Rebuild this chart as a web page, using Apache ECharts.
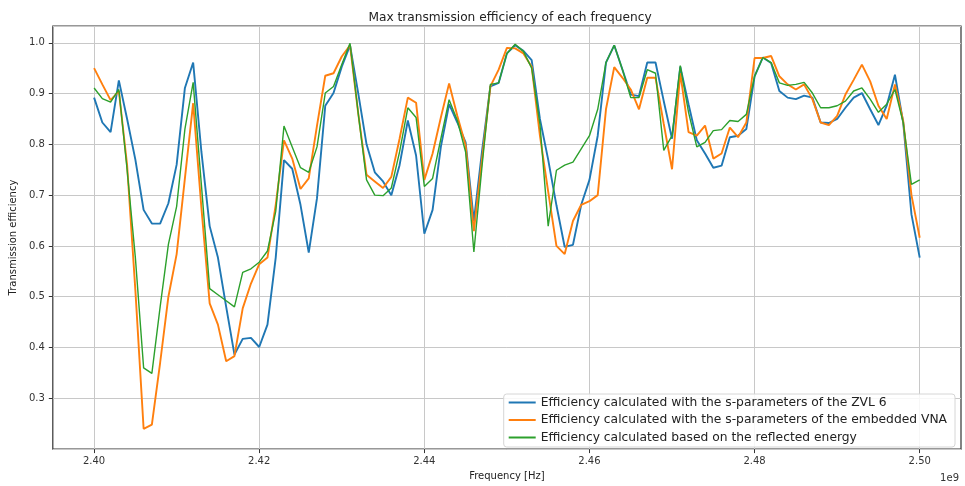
<!DOCTYPE html>
<html>
<head>
<meta charset="utf-8">
<script src="https://cdn.jsdelivr.net/npm/echarts@6/dist/echarts.min.js"></script>
<style>
  html, body { margin: 0; padding: 0; background: #fff; }
  #chart { width: 965px; height: 486px; }
</style>
</head>
<body>
<div id="chart"></div>
<script>
// frequency sweep in MHz (shown on the axis in units of 1e9 Hz)
const freqMHz = [
  2400, 2401, 2402, 2403, 2404, 2405, 2406, 2407, 2408, 2409,
  2410, 2411, 2412, 2413, 2414, 2415, 2416, 2417, 2418, 2419,
  2420, 2421, 2422, 2423, 2424, 2425, 2426, 2427, 2428, 2429,
  2430, 2431, 2432, 2433, 2434, 2435, 2436, 2437, 2438, 2439,
  2440, 2441, 2442, 2443, 2444, 2445, 2446, 2447, 2448, 2449,
  2450, 2451, 2452, 2453, 2454, 2455, 2456, 2457, 2458, 2459,
  2460, 2461, 2462, 2463, 2464, 2465, 2466, 2467, 2468, 2469,
  2470, 2471, 2472, 2473, 2474, 2475, 2476, 2477, 2478, 2479,
  2480, 2481, 2482, 2483, 2484, 2485, 2486, 2487, 2488, 2489,
  2490, 2491, 2492, 2493, 2494, 2495, 2496, 2497, 2498, 2499,
  2500
]

const zvl6 = [
  0.892, 0.843, 0.824, 0.926, 0.850, 0.770, 0.671, 0.644, 0.644, 0.684,
  0.760, 0.911, 0.961, 0.785, 0.639, 0.577, 0.480, 0.386, 0.417, 0.419,
  0.401, 0.445, 0.577, 0.769, 0.752, 0.681, 0.587, 0.694, 0.876, 0.901,
  0.953, 0.995, 0.900, 0.800, 0.745, 0.727, 0.700, 0.759, 0.847, 0.778,
  0.624, 0.671, 0.795, 0.879, 0.843, 0.804, 0.649, 0.788, 0.914, 0.921,
  0.979, 0.995, 0.984, 0.966, 0.850, 0.770, 0.680, 0.598, 0.602, 0.681,
  0.730, 0.817, 0.961, 0.995, 0.947, 0.898, 0.895, 0.961, 0.961, 0.885,
  0.811, 0.953, 0.879, 0.808, 0.782, 0.754, 0.758, 0.814, 0.817, 0.830,
  0.934, 0.971, 0.960, 0.905, 0.892, 0.889, 0.896, 0.892, 0.843, 0.842,
  0.850, 0.872, 0.892, 0.901, 0.869, 0.838, 0.876, 0.937, 0.843, 0.662,
  0.577
]

const embeddedVna = [
  0.950, 0.918, 0.887, 0.905, 0.759, 0.513, 0.240, 0.248, 0.370, 0.500,
  0.584, 0.733, 0.881, 0.675, 0.487, 0.445, 0.373, 0.383, 0.477, 0.526,
  0.564, 0.577, 0.681, 0.808, 0.772, 0.712, 0.733, 0.837, 0.935, 0.940,
  0.973, 0.995, 0.860, 0.740, 0.727, 0.714, 0.736, 0.811, 0.892, 0.882,
  0.730, 0.782, 0.853, 0.920, 0.856, 0.798, 0.629, 0.772, 0.914, 0.947,
  0.990, 0.989, 0.979, 0.953, 0.817, 0.707, 0.600, 0.584, 0.649, 0.681,
  0.688, 0.700, 0.869, 0.952, 0.931, 0.908, 0.869, 0.931, 0.931, 0.840,
  0.751, 0.940, 0.824, 0.817, 0.837, 0.772, 0.782, 0.833, 0.814, 0.843,
  0.970, 0.970, 0.974, 0.934, 0.918, 0.908, 0.918, 0.889, 0.843, 0.838,
  0.856, 0.898, 0.927, 0.957, 0.924, 0.876, 0.850, 0.918, 0.846, 0.700,
  0.616
]

const reflected = [
  0.911, 0.890, 0.883, 0.908, 0.750, 0.577, 0.360, 0.349, 0.480, 0.603,
  0.678, 0.830, 0.922, 0.720, 0.516, 0.504, 0.492, 0.480, 0.548, 0.555,
  0.568, 0.590, 0.668, 0.836, 0.795, 0.754, 0.745, 0.795, 0.901, 0.914,
  0.957, 0.999, 0.860, 0.730, 0.700, 0.699, 0.714, 0.785, 0.872, 0.853,
  0.717, 0.733, 0.811, 0.888, 0.847, 0.785, 0.588, 0.759, 0.918, 0.921,
  0.979, 0.997, 0.983, 0.950, 0.840, 0.639, 0.749, 0.759, 0.765, 0.791,
  0.817, 0.869, 0.961, 0.995, 0.947, 0.892, 0.892, 0.947, 0.940, 0.788,
  0.817, 0.955, 0.863, 0.795, 0.804, 0.827, 0.829, 0.847, 0.845, 0.859,
  0.934, 0.971, 0.961, 0.921, 0.916, 0.918, 0.922, 0.901, 0.872, 0.872,
  0.876, 0.885, 0.905, 0.911, 0.889, 0.863, 0.879, 0.908, 0.843, 0.721,
  0.730
]

const xTicks = [2.40, 2.42, 2.44, 2.46, 2.48, 2.50]
const seriesNames = [
  'Efficiency calculated with the s-parameters of the ZVL 6',
  'Efficiency calculated with the s-parameters of the embedded VNA',
  'Efficiency calculated based on the reflected energy'
]
const colors = ['#1f77b4', '#ff7f0e', '#2ca02c']

const font = 'DejaVu Sans, sans-serif'
const chart = echarts.init(document.getElementById('chart'), null, { renderer: 'canvas' })

function toPoints(values) {
  return freqMHz.map((f, i) => [f / 1000, values[i]])
}

chart.setOption({
  animation: false,
  backgroundColor: '#fff',
  title: {
    text: 'Max transmission efficiency of each frequency',
    left: 505,
    top: 7,
    textAlign: 'center',
    textStyle: { fontFamily: font, fontSize: 12.2, fontWeight: 'normal', color: '#222' }
  },
  grid: {
    left: 47, right: 4, top: 26, bottom: 31,
    show: true, borderColor: '#333', borderWidth: 1.2,
    containLabel: false
  },
  legend: {
    orient: 'vertical',
    right: 10,
    bottom: 39,
    backgroundColor: 'rgba(255,255,255,0.85)',
    borderColor: '#d6d6d6',
    borderWidth: 1,
    borderRadius: 3,
    padding: [1, 8, 2, 4],
    itemGap: 2.5,
    itemWidth: 27,
    itemHeight: 10,
    itemStyle: { opacity: 0 },
    textStyle: { fontFamily: font, fontSize: 12.3, lineHeight: 15, color: '#222' },
    data: seriesNames
  },
  xAxis: {
    type: 'value',
    min: 2.395,
    max: 2.505,
    name: 'Frequency [Hz]',
    nameLocation: 'middle',
    nameGap: 20,
    nameTextStyle: { fontFamily: font, fontSize: 10, color: '#222' },
    axisLine: { show: false },
    axisTick: { show: true, length: 4, lineStyle: { color: '#333' }, customValues: xTicks },
    axisLabel: {
      customValues: xTicks,
      formatter: v => v.toFixed(2),
      fontFamily: font, fontSize: 10, color: '#333', margin: 7
    },
    splitLine: { show: true, lineStyle: { color: '#c8c8c8', width: 1 } }
  },
  yAxis: {
    type: 'value',
    min: 0.2,
    max: 1.033,
    interval: 0.1,
    name: 'Transmission efficiency',
    nameLocation: 'middle',
    nameGap: 30,
    nameTextStyle: { fontFamily: font, fontSize: 10, color: '#222' },
    axisLine: { show: false },
    axisTick: { show: true, length: 4, lineStyle: { color: '#333' } },
    axisLabel: {
      showMinLabel: false,
      showMaxLabel: false,
      formatter: v => v.toFixed(1),
      fontFamily: font, fontSize: 10, color: '#333', margin: 8
    },
    splitLine: { show: true, lineStyle: { color: '#c8c8c8', width: 1 } }
  },
  graphic: [{
    type: 'text',
    right: 6,
    top: 473,
    style: { text: '1e9', fontFamily: font, fontSize: 10, fill: '#333' }
  }],
  series: [zvl6, embeddedVna, reflected].map((vals, k) => ({
    name: seriesNames[k],
    type: 'line',
    data: toPoints(vals),
    symbol: 'none',
    showSymbol: false,
    color: colors[k],
    lineStyle: { width: k === 2 ? 1.4 : 1.9, color: colors[k] },
    z: 3 + k
  }))
})
</script>
</body>
</html>
